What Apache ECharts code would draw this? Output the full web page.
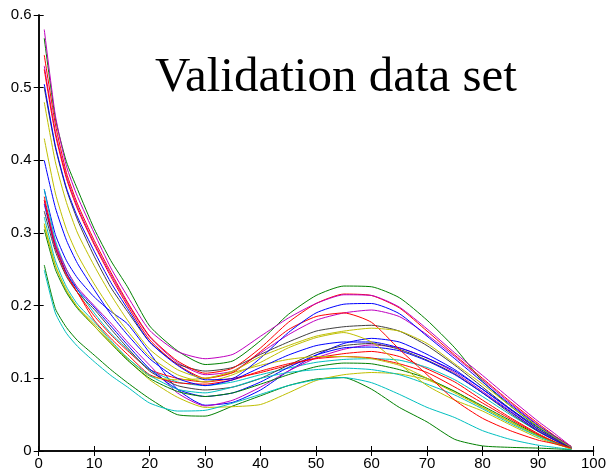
<!DOCTYPE html>
<html>
<head>
<meta charset="utf-8">
<script src="https://cdn.jsdelivr.net/npm/echarts@6/dist/echarts.min.js"></script>
<style>html,body{margin:0;padding:0;background:#fff}#c{width:609px;height:473px}</style>
</head>
<body>
<div id="c"></div>
<script>
var xs = [1,3,5,7,10,13,16,20,25,30,35,40,45,50,55,60,65,70,75,80,85,90,93,96];
var xTicks = [0,10,20,30,40,50,60,70,80,90,100];
var yTicks = [0,0.1,0.2,0.3,0.4,0.5,0.6];
var titleText = "Validation data set";

// group A (high start)
var a1 = [.580,.462,.392,.350,.300,.252,.213,.166,.137,.127,.133,.158,.183,.203,.215,.214,.198,.168,.135,.104,.072,.041,.024,.006];
var a2 = [.568,.458,.398,.360,.306,.262,.226,.172,.138,.119,.124,.152,.188,.214,.227,.226,.211,.180,.142,.096,.062,.033,.019,.006];
var a3 = [.545,.450,.383,.340,.290,.246,.205,.158,.124,.107,.114,.142,.177,.203,.216,.214,.197,.165,.132,.100,.068,.038,.021,.006];
var a4 = [.505,.420,.362,.322,.275,.232,.196,.150,.118,.098,.100,.128,.163,.190,.202,.203,.189,.158,.127,.095,.064,.035,.020,.005];
var a5 = [.530,.440,.378,.336,.286,.243,.203,.157,.122,.105,.110,.135,.160,.180,.190,.194,.185,.160,.130,.098,.066,.036,.020,.006];
var a6 = [.525,.436,.375,.333,.284,.240,.200,.153,.119,.100,.108,.137,.167,.185,.190,.177,.140,.105,.070,.045,.028,.015,.010,.004];
var a7 = [.500,.418,.360,.318,.268,.225,.192,.150,.120,.110,.115,.133,.150,.165,.171,.173,.165,.145,.118,.088,.058,.030,.017,.004];
var a8 = [.480,.398,.342,.300,.255,.215,.180,.140,.112,.100,.110,.130,.145,.158,.165,.169,.165,.148,.120,.092,.062,.034,.019,.005];
var a9 = [.430,.355,.305,.270,.230,.195,.165,.130,.105,.095,.105,.122,.142,.156,.163,.150,.120,.090,.070,.055,.036,.018,.010,.003];
var a10 = [.400,.335,.290,.258,.222,.188,.160,.127,.100,.090,.098,.115,.132,.145,.150,.150,.142,.128,.110,.085,.058,.032,.018,.005];
// group B (middle start)
var b1 = [.360,.298,.262,.238,.212,.192,.175,.135,.085,.063,.067,.084,.110,.132,.148,.155,.150,.133,.112,.085,.057,.030,.017,.004];
var b2 = [.360,.290,.250,.222,.190,.162,.140,.112,.095,.090,.095,.105,.114,.122,.126,.127,.125,.115,.098,.075,.050,.027,.015,.004];
var b3 = [.350,.285,.245,.218,.186,.160,.138,.112,.100,.095,.100,.108,.118,.128,.134,.137,.130,.113,.095,.070,.046,.024,.013,.004];
var b4 = [.345,.285,.250,.225,.200,.176,.150,.118,.080,.062,.070,.088,.110,.128,.140,.146,.142,.128,.108,.082,.055,.028,.016,.004];
var b5 = [.340,.280,.245,.222,.198,.172,.146,.113,.085,.075,.080,.095,.115,.132,.142,.143,.138,.124,.105,.080,.054,.028,.015,.004];
var b6 = [.330,.275,.240,.218,.195,.168,.142,.110,.090,.084,.088,.100,.118,.135,.145,.148,.140,.125,.106,.080,.052,.027,.015,.004];
var b7 = [.322,.262,.226,.202,.178,.152,.128,.104,.085,.080,.088,.100,.108,.112,.114,.112,.105,.092,.077,.058,.038,.020,.011,.003];
var b8 = [.313,.256,.220,.198,.175,.150,.126,.098,.074,.060,.061,.064,.080,.097,.105,.108,.106,.098,.082,.060,.040,.021,.012,.003];
var b9 = [.305,.250,.218,.196,.172,.148,.125,.100,.082,.075,.080,.092,.105,.116,.121,.120,.112,.100,.082,.062,.042,.022,.012,.003];
var b10 = [.345,.280,.242,.218,.180,.155,.133,.105,.094,.092,.098,.110,.120,.127,.130,.128,.120,.108,.088,.066,.044,.023,.012,.004];
var b11 = [.310,.255,.222,.198,.172,.148,.128,.103,.098,.100,.108,.118,.126,.130,.130,.127,.118,.100,.080,.060,.040,.021,.011,.003];
// group C (low start)
var c1 = [.256,.196,.170,.152,.132,.112,.094,.072,.050,.048,.062,.076,.090,.099,.101,.085,.060,.040,.016,.007,.005,.004,.003,.002];
var c2 = [.249,.190,.162,.144,.123,.104,.088,.066,.055,.056,.066,.078,.090,.098,.101,.094,.078,.060,.046,.028,.016,.008,.005,.002];

var curves = [
  ['b1', '#0000FF', b1], ['c1', '#008000', c1], ['b3', '#FF0000', b3], ['b2', '#00BFBF', b2],
  ['b4', '#BF00BF', b4], ['b8', '#BFBF00', b8], ['b6', '#404040', b6],
  ['b5', '#0000FF', b5], ['b9', '#008000', b9], ['b10', '#FF0000', b10], ['c2', '#00BFBF', c2],
  ['a5', '#BF00BF', a5], ['b11', '#BFBF00', b11], ['a7', '#404040', a7],
  ['a10', '#0000FF', a10], ['a2', '#008000', a2], ['a3', '#FF0000', a3], ['b7', '#00BFBF', b7],
  ['a1', '#BF00BF', a1], ['a9', '#BFBF00', a9], ['a6', '#FF0000', a6],
  ['a4', '#0000FF', a4], ['a8', '#BFBF00', a8]
];

var series = curves.map(function (c) {
  return {
    name: c[0], type: 'line', xAxisIndex: 0, yAxisIndex: 0,
    showSymbol: false, symbol: 'none', smooth: 0.2,
    lineStyle: { color: c[1], width: 1 },
    data: xs.map(function (x, i) { return [x, c[2][i]]; })
  };
});

var chart = echarts.init(document.getElementById('c'), null, { renderer: 'canvas' });
var labelFont = { color: '#000', fontFamily: 'Liberation Sans, Arial', fontSize: 15 };
chart.setOption({
  animation: false,
  backgroundColor: '#fff',
  grid: { left: 38.7, right: 14, top: 15, bottom: 22, containLabel: false },
  xAxis: [
    { type: 'value', min: xTicks[0], max: xTicks[xTicks.length - 1], interval: 10, position: 'bottom',
      axisLine: { lineStyle: { color: '#000', width: 1.5 } },
      axisTick: { inside: true, length: 5, lineStyle: { color: '#000' } },
      axisLabel: Object.assign({ margin: 5 }, labelFont),
      splitLine: { show: false } },
    { type: 'value', min: xTicks[0], max: xTicks[xTicks.length - 1], interval: 10, position: 'top',
      axisLine: { lineStyle: { color: '#000', width: 1.5 } },
      axisTick: { inside: true, length: 5, lineStyle: { color: '#000' } },
      axisLabel: { show: false }, splitLine: { show: false } }
  ],
  yAxis: [
    { type: 'value', min: yTicks[0], max: yTicks[yTicks.length - 1], interval: 0.1, position: 'left',
      axisLine: { show: true, lineStyle: { color: '#000', width: 1.5 } },
      axisTick: { show: true, inside: true, length: 5, lineStyle: { color: '#000' } },
      axisLabel: Object.assign({ margin: 7 }, labelFont),
      splitLine: { show: false } },
    { type: 'value', min: yTicks[0], max: yTicks[yTicks.length - 1], interval: 0.1, position: 'right',
      axisLine: { show: true, lineStyle: { color: '#000', width: 1.5 } },
      axisTick: { show: true, inside: true, length: 5, lineStyle: { color: '#000' } },
      axisLabel: { show: false }, splitLine: { show: false } }
  ],
  graphic: [{
    type: 'text', left: 155, top: 54,
    style: { text: titleText, font: '49px "Liberation Serif", "Times New Roman", serif', fill: '#000' }
  }],
  series: series
});
</script>
</body>
</html>
